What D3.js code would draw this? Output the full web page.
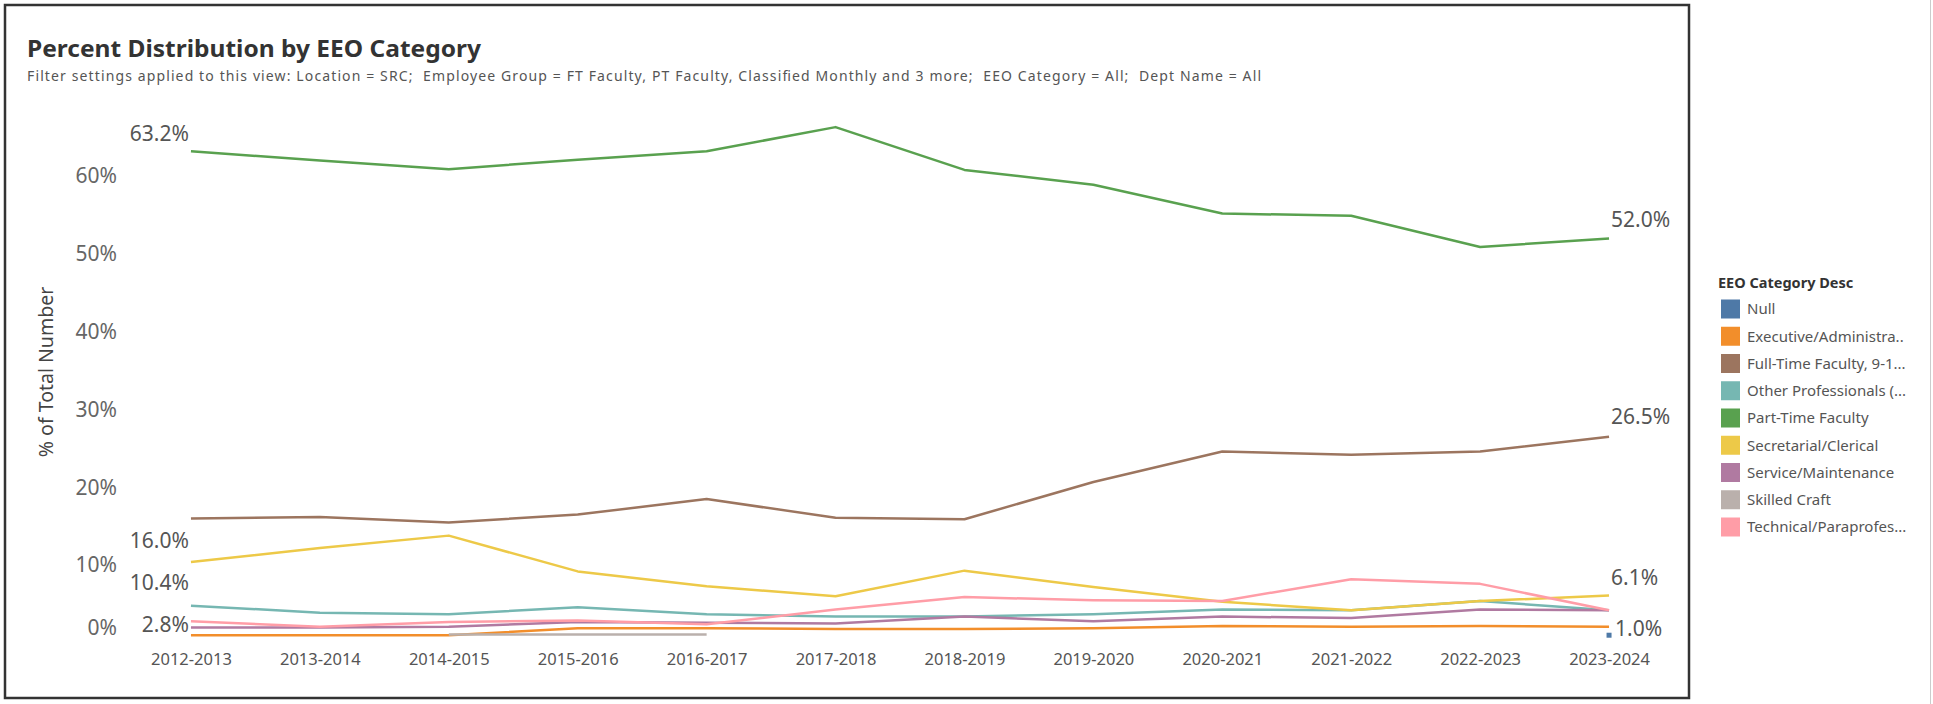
<!DOCTYPE html>
<html><head><meta charset="utf-8">
<script src="https://cdn.jsdelivr.net/npm/d3@7"></script>
<style>
html,body{margin:0;padding:0;background:#fff;}
svg{display:block;font-family:"Noto Sans",sans-serif;}
</style></head><body>
<svg id="chart" width="1933" height="704"></svg>
<script>
const years = ["2012-2013","2013-2014","2014-2015","2015-2016","2016-2017","2017-2018","2018-2019","2019-2020","2020-2021","2021-2022","2022-2023","2023-2024"];
const categoryNames = ["Null","Executive/Administra..","Full-Time Faculty, 9-1...","Other Professionals (...","Part-Time Faculty","Secretarial/Clerical","Service/Maintenance","Skilled Craft","Technical/Paraprofes..."];
const categoryColors = ["#4e79a7","#f28e2b","#9c755f","#76b7b2","#59a14f","#edc948","#b07aa1","#bab0ac","#ff9da7"];

const nullValues        = [null,null,null,null,null,null,null,null,null,null,null,1.0];
const executiveValues   = [1.0,1.0,1.0,1.9,1.9,1.8,1.8,1.9,2.2,2.1,2.2,2.1];
const fullTimeValues    = [16.0,16.2,15.5,16.5,18.5,16.1,15.9,20.7,24.6,24.2,24.6,26.5];
const otherProfValues   = [4.8,3.9,3.7,4.6,3.7,3.4,3.4,3.7,4.3,4.2,5.4,4.2];
const partTimeValues    = [63.2,62.0,60.9,62.1,63.2,66.3,60.8,58.9,55.2,54.9,50.9,52.0];
const secretarialValues = [10.4,12.2,13.8,9.2,7.3,6.0,9.3,7.2,5.3,4.2,5.4,6.1];
const serviceValues     = [2.0,2.0,2.1,2.7,2.6,2.5,3.4,2.8,3.4,3.2,4.3,4.2];
const skilledValues     = [null,null,1.1,1.1,1.1,null,null,null,null,null,null,null];
const technicalValues   = [2.8,2.1,2.7,2.9,2.4,4.3,5.9,5.5,5.4,8.2,7.6,4.2];

const yTicks = [0,10,20,30,40,50,60];

const titleText = "Percent Distribution by EEO Category";
const subtitleText = "Filter settings applied to this view: Location = SRC;  Employee Group = FT Faculty, PT Faculty, Classified Monthly and 3 more;  EEO Category = All;  Dept Name = All";
const yAxisTitle = "% of Total Number";
const legendTitle = "EEO Category Desc";

const allValues = [nullValues, executiveValues, fullTimeValues, otherProfValues, partTimeValues, secretarialValues, serviceValues, skilledValues, technicalValues];
const series = categoryNames.map((n,i)=>({name:n,color:categoryColors[i],values:allValues[i]}));

const startLabelSeries = [4,2,5,8];
const endLabelSeries = [4,2,5,0];

const svg = d3.select("#chart");
const fmt = d => d3.format(".1f")(d) + "%";

// frame
svg.append("rect").attr("x",5).attr("y",5).attr("width",1684).attr("height",693)
  .attr("fill","none").attr("stroke","#333").attr("stroke-width",2.5);
svg.append("line").attr("x1",1930.5).attr("x2",1930.5).attr("y1",0).attr("y2",704)
  .attr("stroke","#ccc").attr("stroke-width",1);

// titles
svg.append("text").attr("x",27).attr("y",57).text(titleText)
  .attr("font-size",22.5).attr("font-weight","bold").attr("fill","#333")
  .attr("textLength",454).attr("lengthAdjust","spacingAndGlyphs");
svg.append("text").attr("x",27).attr("y",81).text(subtitleText)
  .style("white-space","pre")
  .attr("font-size",14).attr("fill","#555")
  .attr("textLength",1234).attr("lengthAdjust","spacing");

// scales
const x = d3.scalePoint().domain(years).range([126.5,1673.5]).padding(0.5);
const y = d3.scaleLinear().domain([0,68.5]).range([643,110]);

// y axis
const yAxis = svg.append("g").attr("transform","translate(126,0)")
  .call(d3.axisLeft(y).tickValues(yTicks).tickSize(0).tickPadding(9).tickFormat(d=>d+"%"));
yAxis.select(".domain").remove();
yAxis.selectAll("text").attr("font-size",21).attr("fill","#666").attr("font-family","Noto Sans");
yAxis.selectAll(".tick").filter(d=>d===0).select("text").attr("dy","-0.4em");

svg.append("text").attr("transform","translate(53,372) rotate(-90)")
  .attr("text-anchor","middle").attr("font-size",19.5).attr("fill","#444").text(yAxisTitle);

// x axis
const xAxis = svg.append("g").attr("transform","translate(0,650)")
  .call(d3.axisBottom(x).tickSize(0).tickPadding(3));
xAxis.select(".domain").remove();
xAxis.selectAll("text").attr("font-size",16.5).attr("fill","#555").attr("font-family","Noto Sans");

// lines
const line = d3.line().defined(d=>d.v!=null).x(d=>x(d.year)).y(d=>y(d.v));
const g = svg.append("g");
series.forEach(s=>{
  const pts = s.values.map((v,i)=>({year:years[i],v}));
  g.append("path").datum(pts).attr("d",line).attr("fill","none")
    .attr("stroke",s.color).attr("stroke-width",2.5).attr("stroke-linejoin","round");
  pts.forEach((p,i)=>{
    if(p.v==null) return;
    const prev = i>0 ? pts[i-1].v : null, next = i<pts.length-1 ? pts[i+1].v : null;
    if(prev==null && next==null){
      g.append("rect").attr("x",x(p.year)-2.5).attr("y",y(p.v)-2.5).attr("width",5).attr("height",5).attr("fill",s.color);
    }
  });
});

// labels
const labelG = svg.append("g").attr("font-size",21).attr("fill","#555");
const startOffsets = {4:-18,2:22,5:21,8:3};
startLabelSeries.forEach(si=>{
  const v = series[si].values[0];
  labelG.append("text").attr("x",x(years[0])-2).attr("y",y(v)+startOffsets[si])
    .attr("dy","0.35em").attr("text-anchor","end").text(fmt(v));
});
const endOffsets = {4:-19,2:-20,5:-18,0:-7};
endLabelSeries.forEach(si=>{
  const v = series[si].values[years.length-1];
  labelG.append("text").attr("x",x(years[years.length-1])+(si===0?6:2)).attr("y",y(v)+endOffsets[si])
    .attr("dy","0.35em").attr("text-anchor","start").text(fmt(v));
});

// legend
const lg = svg.append("g");
lg.append("text").attr("x",1718).attr("y",283).attr("dy","0.35em").text(legendTitle)
  .attr("font-size",14.5).attr("font-weight","bold").attr("fill","#333");
series.forEach((s,i)=>{
  const cy = 309 + i*27.25;
  lg.append("rect").attr("x",1721).attr("y",cy-9.5).attr("width",19).attr("height",19).attr("fill",s.color);
  lg.append("text").attr("x",1747).attr("y",cy).attr("dy","0.35em").text(s.name)
    .attr("font-size",15).attr("fill","#555");
});
</script>
</body></html>
